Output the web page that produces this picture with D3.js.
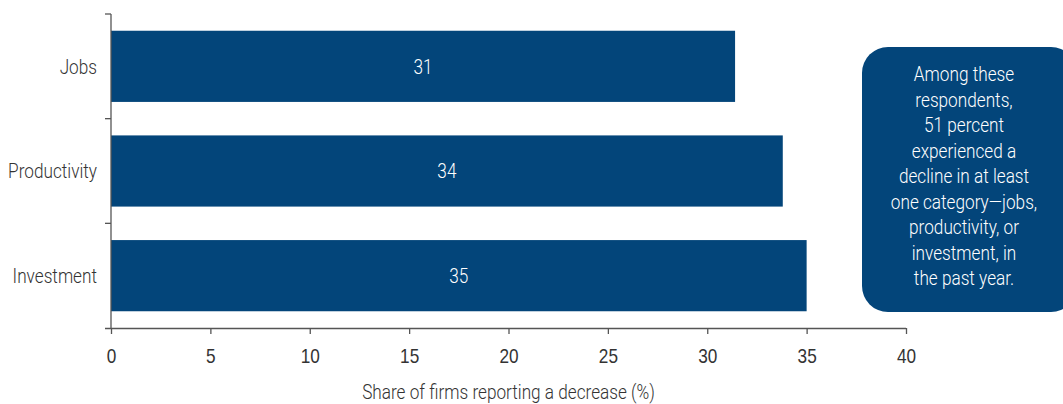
<!DOCTYPE html>
<html>
<head>
<meta charset="utf-8">
<script src="https://cdn.jsdelivr.net/npm/d3@7"></script>
<style>
  html, body { margin: 0; padding: 0; background: #fff; }
  svg { display: block; font-family: Roboto, "Liberation Sans", sans-serif; }
</style>
</head>
<body>
<svg id="chart" width="1063" height="404"></svg>
<script>
// Share of firms reporting a decrease, by category
const categories = ["Jobs", "Productivity", "Investment"];
const values = [31.4, 33.8, 35.0];
const xTicks = [0, 5, 10, 15, 20, 25, 30, 35, 40];
const xTitle = "Share of firms reporting a decrease (%)";
const noteLines = [
  "Among these",
  "respondents,",
  "51 percent",
  "experienced a",
  "decline in at least",
  "one category\u2014jobs,",
  "productivity, or",
  "investment, in",
  "the past year."
];

const barColor = "#03457a";
const textColor = "#333";
const axisColor = "#555";
const fontSize = 20;
const squeeze = 0.86;   // horizontal condensing of all labels

const svg = d3.select("#chart");
const margin = { left: 111, right: 157, top: 14, bottom: 76 };
const W = 1063, H = 404;

const x = d3.scaleLinear().domain([0, 40]).range([margin.left, W - margin.right]);
const y = d3.scaleBand().domain(categories).range([margin.top, H - margin.bottom])
  .paddingInner(0.32).paddingOuter(0.16);

// Place condensed text at (px, py)
function label(sel, px, py) {
  return sel.attr("x", 0).attr("y", 0)
    .attr("transform", (d, i) => `translate(${typeof px === "function" ? px(d, i) : px},${typeof py === "function" ? py(d, i) : py}) scale(${squeeze},1)`)
    .attr("font-size", fontSize)
    .attr("font-weight", 300);
}

// Bars
svg.append("g").selectAll("rect").data(categories).join("rect")
  .attr("x", x(0))
  .attr("y", d => y(d))
  .attr("width", (d, i) => x(values[i]) - x(0))
  .attr("height", y.bandwidth())
  .attr("fill", barColor);

// Value labels inside bars
label(svg.append("g").selectAll("text").data(categories).join("text"),
    (d, i) => (x(0) + x(values[i])) / 2,
    d => y(d) + y.bandwidth() / 2)
  .attr("dy", "0.36em")
  .attr("text-anchor", "middle")
  .attr("fill", "#fff")
  .text((d, i) => d3.format(".0f")(values[i]));

// X axis
const xAxis = svg.append("g")
  .attr("transform", `translate(0,${H - margin.bottom})`)
  .call(d3.axisBottom(x).tickValues(xTicks).tickSize(6).tickSizeOuter(0));
xAxis.select(".domain").attr("d", `M${x(0) - 6},0.5H${x(40)}`);
xAxis.selectAll("line").attr("stroke", axisColor).attr("stroke-width", 1.3);
xAxis.select(".domain").attr("stroke", axisColor).attr("stroke-width", 1.3);
xAxis.selectAll(".tick text")
  .attr("fill", textColor).attr("font-size", fontSize).attr("font-weight", 300)
  .attr("font-family", "inherit")
  .attr("y", 0).attr("dy", 0)
  .attr("transform", `translate(0,35) scale(${squeeze},1)`);

// Y axis: ticks at band boundaries, labels centred on bands
const yAxisG = svg.append("g").attr("transform", `translate(${x(0)},0)`);
const boundaries = d3.range(categories.length).map(i => margin.top + i * (H - margin.bottom - margin.top) / categories.length);
yAxisG.append("line")
  .attr("x1", 0).attr("x2", 0)
  .attr("y1", margin.top).attr("y2", H - margin.bottom)
  .attr("stroke", axisColor).attr("stroke-width", 1.3);
yAxisG.selectAll(".btick").data(boundaries).join("line")
  .attr("class", "btick")
  .attr("x1", -6).attr("x2", 0)
  .attr("y1", d => d).attr("y2", d => d)
  .attr("stroke", axisColor).attr("stroke-width", 1.3);
label(yAxisG.selectAll("text").data(categories).join("text"),
    -14, d => y(d) + y.bandwidth() / 2)
  .attr("dy", "0.36em")
  .attr("text-anchor", "end")
  .attr("fill", textColor)
  .text(d => d);

// Axis title
label(svg.append("text"), (x(0) + x(40)) / 2, 399)
  .attr("text-anchor", "middle")
  .attr("fill", textColor)
  .text(xTitle);

// Callout box
const box = { x: 862, y: 47, w: 215, h: 265 };
svg.append("rect")
  .attr("x", box.x).attr("y", box.y)
  .attr("width", box.w).attr("height", box.h)
  .attr("rx", 26).attr("ry", 26)
  .attr("fill", barColor);
label(svg.append("g").selectAll("text").data(noteLines).join("text"),
    964, (d, i) => 81 + i * 25.5)
  .attr("text-anchor", "middle")
  .attr("fill", "#fff")
  .text(d => d);
</script>
</body>
</html>
